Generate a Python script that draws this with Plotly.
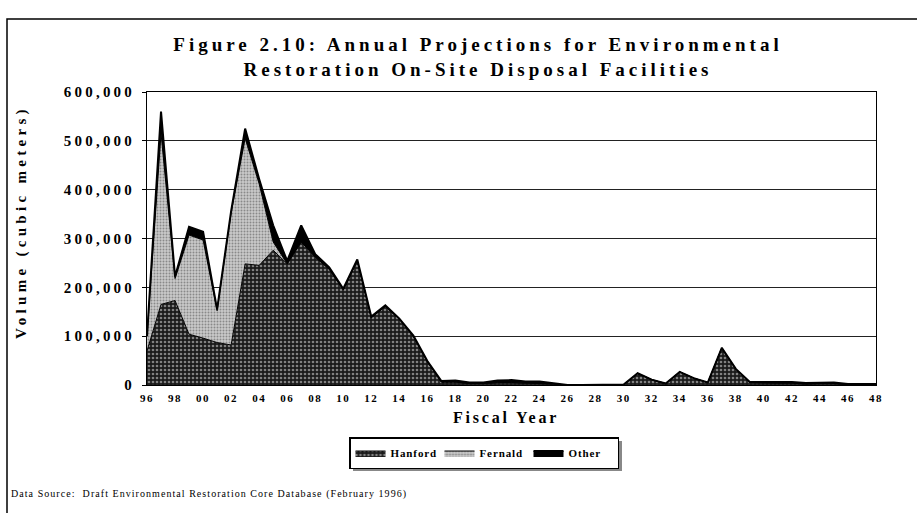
import plotly.graph_objects as go

years = [1996, 1997, 1998, 1999, 2000, 2001, 2002, 2003, 2004, 2005,
         2006, 2007, 2008, 2009, 2010, 2011, 2012, 2013, 2014, 2015,
         2016, 2017, 2018, 2019, 2020, 2021, 2022, 2023, 2024, 2025,
         2026, 2027, 2028, 2029, 2030, 2031, 2032, 2033, 2034, 2035,
         2036, 2037, 2038, 2039, 2040, 2041, 2042, 2043, 2044, 2045,
         2046, 2047, 2048]

hanford = [70000, 165000, 173000, 104000, 96000, 87000, 82000, 248000, 245000, 276000,
           248000, 293000, 262000, 237000, 195000, 255000, 138000, 161000, 135000, 100000,
           48000, 6000, 6000, 3000, 3000, 5000, 5000, 4000, 4000, 2000,
           0, 0, 0, 0, 1000, 24000, 11000, 3000, 27000, 14000,
           5000, 76000, 33000, 5000, 4000, 4000, 4000, 2000, 3000, 3000,
           1000, 1000, 1000]

fernald = [30000, 350000, 45000, 203000, 201000, 65000, 270000, 257000, 167000, 17000,
           0, 0, 0, 0, 0, 0, 0, 0, 0, 0,
           0, 0, 0, 0, 0, 0, 0, 0, 0, 0,
           0, 0, 0, 0, 0, 0, 0, 0, 0, 0,
           0, 0, 0, 0, 0, 0, 0, 0, 0, 0,
           0, 0, 0]

other = [0, 45000, 4000, 17000, 17000, 3000, 4000, 20000, 10000, 34000,
         6000, 34000, 6000, 4000, 2000, 2000, 2000, 2000, 1000, 1000,
         1000, 2000, 3000, 2000, 2000, 4000, 5000, 3000, 3000, 2000,
         0, 0, 0, 0, 0, 0, 0, 0, 0, 0,
         0, 0, 0, 1000, 2000, 2000, 2000, 2000, 2000, 2000,
         1000, 1000, 1000]

tick_years = [1996, 1998, 2000, 2002, 2004, 2006, 2008, 2010, 2012, 2014,
              2016, 2018, 2020, 2022, 2024, 2026, 2028, 2030, 2032, 2034,
              2036, 2038, 2040, 2042, 2044, 2046, 2048]
tick_labels = ["96", "98", "00", "02", "04", "06", "08", "10", "12", "14",
               "16", "18", "20", "22", "24", "26", "28", "30", "32", "34",
               "36", "38", "40", "42", "44", "46", "48"]
y_ticks = [0, 100000, 200000, 300000, 400000, 500000, 600000]
y_tick_labels = ["0", "100,000", "200,000", "300,000", "400,000", "500,000", "600,000"]

SERIF = "Liberation Serif, Times New Roman, serif"


def spaced(text, px):
    return f"<span style='letter-spacing:{px}px'>{text}</span>"


fig = go.Figure()
fig.add_trace(go.Scatter(
    x=years, y=hanford, name=spaced("Hanford", 0.9), stackgroup="one", mode="lines",
    line=dict(color="black", width=1),
    fillcolor="#1a1a1a",
    fillpattern=dict(shape=".", bgcolor="#1a1a1a", fgcolor="#e8e8e8", size=4, solidity=0.35),
))
fig.add_trace(go.Scatter(
    x=years, y=fernald, name=spaced("Fernald", 0.9), stackgroup="one", mode="lines",
    line=dict(color="black", width=1),
    fillcolor="#c4c4c4",
    fillpattern=dict(shape=".", bgcolor="#cacaca", fgcolor="#484848", size=3, solidity=0.33),
))
fig.add_trace(go.Scatter(
    x=years, y=other, name=spaced("Other", 0.9), stackgroup="one", mode="lines",
    line=dict(color="black", width=2),
    fillcolor="black",
))

W, H = 917, 513
L, R, T, B = 147, 41, 92, 128
pw, ph = W - L - R, H - T - B


def px_x(x):
    return (x - L) / pw


def px_y(y):
    return (H - B - y) / ph


fig.update_layout(
    width=W, height=H,
    margin=dict(l=L, r=R, t=T, b=B),
    paper_bgcolor="white", plot_bgcolor="white",
    font=dict(family=SERIF, color="black"),
    title=dict(
        text="<b>" + spaced("Figure 2.10: Annual Projections for Environmental", 4.0)
             + "<br>" + spaced("Restoration On-Site Disposal Facilities", 4.0) + "</b>",
        x=478 / W, xanchor="center", xref="container",
        y=1 - 51 / H, yanchor="top", yref="container",
        font=dict(family=SERIF, size=19, color="black"),
    ),
    showlegend=True,
    legend=dict(
        orientation="h", x=px_x(484), xanchor="center", y=px_y(437), yanchor="top",
        bgcolor="white", bordercolor="black", borderwidth=1.5,
        font=dict(family=SERIF, size=11, color="black", weight="bold"),
        traceorder="normal", entrywidth=44, entrywidthmode="pixels",
        itemwidth=30,
    ),
    xaxis=dict(
        range=[1996, 2048], tickvals=tick_years,
        ticktext=[spaced(t, 1.5) for t in tick_labels],
        showgrid=False, zeroline=False,
        showline=True, linecolor="black", linewidth=1, mirror=True,
        ticks="", tickfont=dict(family=SERIF, size=11, color="black", weight="bold"),
        ticklabelstandoff=3,
    ),
    yaxis=dict(
        range=[0, 600000], tickvals=y_ticks,
        ticktext=[spaced(t, 3.2) for t in y_tick_labels],
        showgrid=True, gridcolor="#222", gridwidth=1, zeroline=False,
        showline=True, linecolor="black", linewidth=1, mirror=True,
        ticks="outside", ticklen=4, tickcolor="black",
        tickfont=dict(family=SERIF, size=15, color="black", weight="bold"),
        ticklabelstandoff=4,
    ),
    annotations=[
        dict(text="<b>" + spaced("Volume (cubic meters)", 4.3) + "</b>", textangle=-90,
             x=px_x(21), y=px_y(222), xref="paper", yref="paper",
             xanchor="center", yanchor="middle", showarrow=False,
             font=dict(family=SERIF, size=15, color="black")),
        dict(text="<b>" + spaced("Fiscal Year", 2.8) + "</b>",
             x=px_x(506), y=px_y(417), xref="paper", yref="paper",
             xanchor="center", yanchor="middle", showarrow=False,
             font=dict(family=SERIF, size=16, color="black")),
        dict(text=spaced("Data Source:  Draft Environmental Restoration Core Database (February 1996)", 1.05),
             x=px_x(9), y=px_y(494), xref="paper", yref="paper",
             xanchor="left", yanchor="middle", showarrow=False,
             font=dict(family=SERIF, size=10, color="black")),
    ],
    shapes=[
        dict(type="rect", xref="paper", yref="paper",
             x0=px_x(7), x1=px_x(930), y0=px_y(530), y1=px_y(19),
             line=dict(color="black", width=1.5), layer="below"),
        dict(type="rect", xref="paper", yref="paper",
             x0=px_x(353), x1=px_x(622), y0=px_y(471), y1=px_y(441),
             line=dict(width=0), fillcolor="#888", layer="above"),
    ],
)

fig.write_html("out.html", post_script="document.body.style.margin='0';",
               config={"displayModeBar": False})
